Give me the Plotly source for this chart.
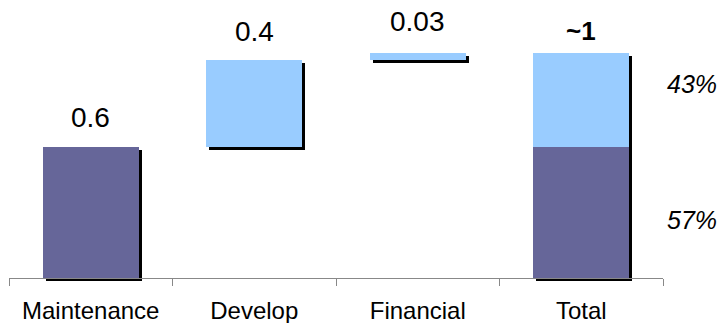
import plotly.graph_objects as go

# Waterfall data
categories = ["Maintenance", "Develop", "Financial", "Total"]
step_values = [0.6, 0.4, 0.03]
value_labels = ["0.6", "0.4", "0.03", "~1"]
share_labels = ["57%", "43%"]

DARK = "#666699"
LIGHT = "#99CCFF"

# Bases of the floating steps and composition of the total bar
bases = []
running = 0.0
for v in step_values:
    bases.append(running)
    running += v
total = running
total_dark = step_values[0]
total_light = total - total_dark

W, H = 722, 323
ML, MR, MT, MB = 9, 56, 0, 42
plot_w = W - ML - MR
plot_h = H - MT - MB
SH = 3  # shadow offset in px
dx = SH / plot_w
dy = SH / plot_h

y_max = 1.273
bar_w = 0.59

fig = go.Figure()

# Drop shadow (subplot xy, drawn underneath)
fig.add_trace(go.Bar(
    x=categories, y=step_values + [total], base=bases + [0],
    width=bar_w, marker=dict(color="black", line=dict(width=0)),
    xaxis="x", yaxis="y", hoverinfo="skip", showlegend=False,
))

# Main bars (subplot x2y2)
fig.add_trace(go.Bar(
    x=categories, y=[step_values[0], step_values[1], step_values[2], total_dark],
    base=[bases[0], bases[1], bases[2], 0],
    width=bar_w,
    marker=dict(color=[DARK, LIGHT, LIGHT, DARK], line=dict(width=0)),
    xaxis="x2", yaxis="y2", showlegend=False,
))
fig.add_trace(go.Bar(
    x=[categories[3]], y=[total_light], base=[total_dark],
    width=bar_w, marker=dict(color=LIGHT, line=dict(width=0)),
    xaxis="x2", yaxis="y2", showlegend=False,
))

# Value labels above bars
tops = [bases[0] + step_values[0], bases[1] + step_values[1],
        bases[2] + step_values[2], total]
shifts = [29, 28, 32, 22]
for i, (cat, lab) in enumerate(zip(categories, value_labels)):
    bold = i == 3
    fig.add_annotation(
        x=cat, y=tops[i], xref="x2", yref="y2", text=f"<b>{lab}</b>" if bold else lab,
        showarrow=False, yanchor="middle", yshift=shifts[i],
        font=dict(family="Liberation Sans, Arial", size=26 if bold else 28, color="black"),
    )

# Share labels beside the total bar
share_pos = [total_dark / 2, total_dark + total_light / 2]
share_shift = [-8, 16]
for lab, yv, ys in zip(share_labels, share_pos, share_shift):
    fig.add_annotation(
        x=categories[3], y=yv, xref="x2", yref="y2", text=f"<i>{lab}</i>",
        showarrow=False, xshift=111, yshift=ys,
        font=dict(family="Liberation Sans, Arial", size=25, color="black"),
    )

axis_hidden = dict(visible=False, showgrid=False, zeroline=False)
fig.update_layout(
    width=W, height=H,
    margin=dict(l=ML, r=MR, t=MT, b=MB),
    paper_bgcolor="white", plot_bgcolor="rgba(0,0,0,0)",
    barmode="overlay", bargap=0,
    font=dict(family="Liberation Sans, Arial", color="black"),
    xaxis=dict(domain=[dx, 1], anchor="y", range=[-0.5, 3.5],
               categoryorder="array", categoryarray=categories, **axis_hidden),
    yaxis=dict(domain=[0, 1 - dy], anchor="x", range=[0, y_max], **axis_hidden),
    xaxis2=dict(domain=[0, 1 - dx], anchor="y2", range=[-0.5, 3.5],
                categoryorder="array", categoryarray=categories,
                showline=True, linecolor="#888888", linewidth=1,
                ticks="outside", tickson="boundaries", ticklen=7,
                tickcolor="#888888", tickwidth=1, showgrid=False, zeroline=False,
                ticklabelstandoff=11,
                tickfont=dict(family="Liberation Sans, Arial", size=24, color="black")),
    yaxis2=dict(domain=[dy, 1], anchor="x2", range=[0, y_max], **axis_hidden),
)

fig.write_html("out.html")
